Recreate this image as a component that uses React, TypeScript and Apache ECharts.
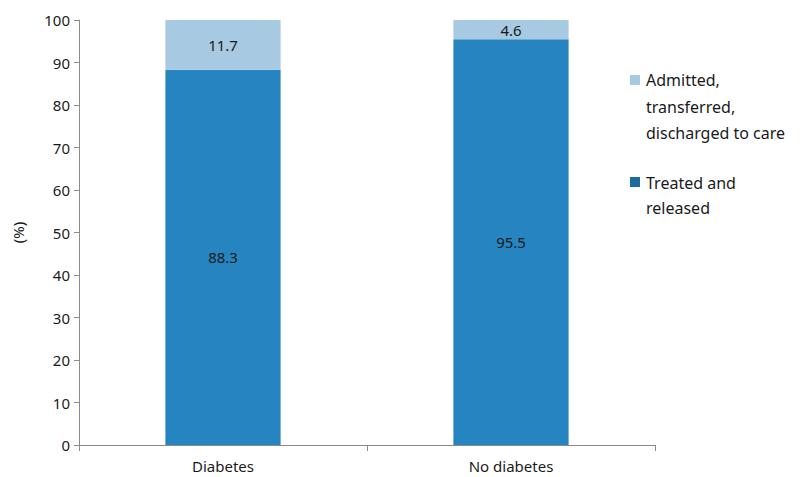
import React, { useEffect, useRef } from "react";
import * as echarts from "echarts";

const categories = ["Diabetes", "No diabetes"];
const treatedValues = [88.3, 95.5];
const admittedValues = [11.7, 4.6];
const seriesNames = ["Treated and released", "Admitted, transferred, discharged to care"];
const legendLines = [["Admitted,", "transferred,", "discharged to care"], ["Treated and", "released"]];
const yTicks = { min: 0, max: 100, interval: 10 };

const FONT = "'Noto Sans', 'Open Sans', sans-serif";

export default function App() {
  const ref = useRef<HTMLDivElement>(null);
  useEffect(() => {
    document.body.style.margin = "0";
    if (!ref.current) return;
    const chart = echarts.init(ref.current, undefined, { renderer: "svg" });
    const axisColor = "#8c8c8c";
    const labelStyle = {
      show: true,
      position: "inside" as const,
      color: "#1a1a1a",
      fontSize: 15,
      fontFamily: FONT,
    };
    chart.setOption({
      animation: false,
      textStyle: { fontFamily: FONT },
      grid: { left: 79, right: 154, top: 20, bottom: 32, containLabel: false },
      xAxis: {
        type: "category",
        data: categories,
        axisLine: { lineStyle: { color: axisColor } },
        axisTick: { show: true, length: 6, lineStyle: { color: axisColor } },
        axisLabel: { color: "#1a1a1a", fontSize: 15, fontFamily: FONT, margin: 13 },
      },
      yAxis: {
        type: "value",
        min: yTicks.min,
        max: yTicks.max,
        interval: yTicks.interval,
        name: "(%)",
        nameLocation: "middle",
        nameGap: 54,
        nameRotate: 90,
        nameTextStyle: { color: "#1a1a1a", fontSize: 15, fontFamily: FONT },
        axisLine: { show: true, lineStyle: { color: axisColor } },
        axisTick: { show: true, length: 5, lineStyle: { color: axisColor } },
        splitLine: { show: false },
        axisLabel: { color: "#1a1a1a", fontSize: 15, fontFamily: FONT, margin: 9 },
      },
      series: [
        {
          name: seriesNames[0],
          type: "bar",
          stack: "total",
          data: treatedValues,
          barWidth: "40%",
          itemStyle: { color: "#2684c1" },
          label: labelStyle,
        },
        {
          name: seriesNames[1],
          type: "bar",
          stack: "total",
          data: admittedValues,
          barWidth: "40%",
          itemStyle: { color: "#a7c9e2" },
          label: labelStyle,
        },
      ],
      graphic: [
        { type: "rect", left: 630, top: 75, shape: { width: 10, height: 10 }, style: { fill: "#a7c9e2" } },
        {
          type: "text",
          left: 646,
          top: 67,
          style: { text: legendLines[0].join("\n"), fontSize: 16, lineHeight: 26.5, fontFamily: FONT, fill: "#1a1a1a" },
        },
        { type: "rect", left: 630, top: 177, shape: { width: 10, height: 10 }, style: { fill: "#1a6c9e" } },
        {
          type: "text",
          left: 646,
          top: 170,
          style: { text: legendLines[1].join("\n"), fontSize: 16, lineHeight: 25, fontFamily: FONT, fill: "#1a1a1a" },
        },
      ],
    });
    return () => chart.dispose();
  }, []);
  return <div ref={ref} style={{ width: 809, height: 477 }} />;
}
